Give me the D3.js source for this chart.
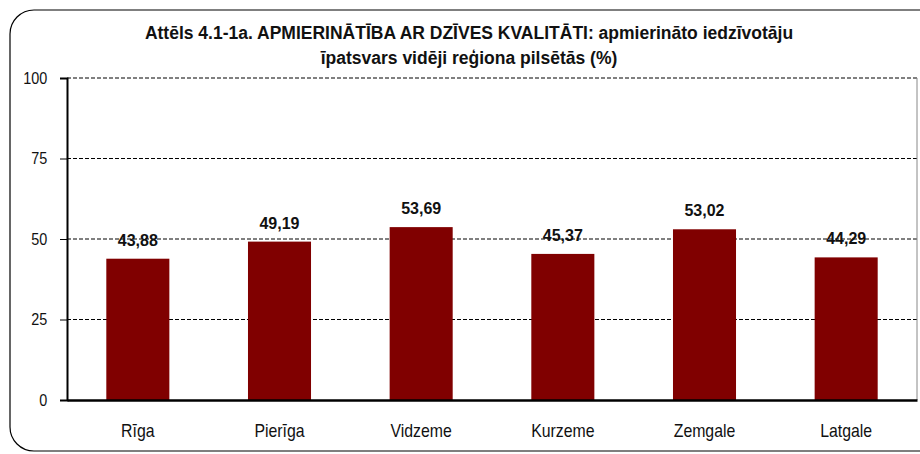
<!DOCTYPE html>
<html>
<head>
<meta charset="utf-8">
<script src="https://cdn.jsdelivr.net/npm/d3@7"></script>
<style>
  body { margin: 0; background: #fff; }
  svg text { font-family: "Liberation Sans Narrow", "Arial Narrow", "Liberation Sans", Arial, sans-serif; }
</style>
</head>
<body>
<script>
// chart data
var regions = ["Rīga", "Pierīga", "Vidzeme", "Kurzeme", "Zemgale", "Latgale"];
var values = [43.88, 49.19, 53.69, 45.37, 53.02, 44.29];
var yTicks = [0, 25, 50, 75, 100];
var titleLines = ["Attēls 4.1-1a. APMIERINĀTĪBA AR DZĪVES KVALITĀTI: apmierināto iedzīvotāju",
                  "īpatsvars vidēji reģiona pilsētās (%)"];

var w = 920, h = 454;
var plotLeft = 67, plotRight = 917, plotTop = 78, plotBottom = 400;

var svg = d3.select("body").append("svg")
    .attr("width", w)
    .attr("height", h);

// outer frame
svg.append("rect")
    .attr("x", 10).attr("y", 10)
    .attr("width", 935).attr("height", 441)
    .attr("rx", 24).attr("ry", 24)
    .style("fill", "none")
    .style("stroke", "#000")
    .style("stroke-width", 1.2);

// title
svg.append("g").selectAll("text")
    .data(titleLines)
    .enter()
    .append("text")
    .text(function(d) { return d; })
    .attr("x", 469)
    .attr("y", function(d, i) { return 39 + i * 25; })
    .attr("text-anchor", "middle")
    .attr("font-size", "17.5px")
    .attr("font-weight", "bold")
    .attr("fill", "#111");

var x = d3.scaleBand()
    .domain(regions)
    .range([plotLeft, plotRight])
    .paddingInner(0.555)
    .paddingOuter(0.2775);

var y = d3.scaleLinear()
    .domain([0, 100])
    .range([plotBottom, plotTop]);

// gridlines
svg.append("g").selectAll("line")
    .data(yTicks.filter(function(d) { return d > 0; }))
    .enter()
    .append("line")
    .attr("x1", plotLeft).attr("x2", plotRight)
    .attr("y1", function(d) { return y(d); })
    .attr("y2", function(d) { return y(d); })
    .style("stroke", "#000")
    .style("stroke-width", 1)
    .style("stroke-dasharray", "4,2");

// right border of plot
svg.append("line")
    .attr("x1", plotRight).attr("x2", plotRight)
    .attr("y1", plotTop).attr("y2", plotBottom)
    .style("stroke", "#888")
    .style("stroke-width", 1);

// bars
svg.append("g").selectAll("rect")
    .data(values)
    .enter()
    .append("rect")
    .attr("x", function(d, i) { return x(regions[i]); })
    .attr("y", function(d) { return y(d); })
    .attr("width", x.bandwidth())
    .attr("height", function(d) { return plotBottom - y(d); })
    .style("fill", "#800000");

// value labels
svg.append("g").selectAll("text")
    .data(values)
    .enter()
    .append("text")
    .text(function(d) { return d.toFixed(2).replace(".", ","); })
    .attr("x", function(d, i) { return x(regions[i]) + x.bandwidth() / 2; })
    .attr("y", function(d) { return y(d) - 13; })
    .attr("text-anchor", "middle")
    .attr("font-size", "16px")
    .attr("font-weight", "bold")
    .attr("fill", "#111");

// y axis
var yAxis = svg.append("g")
    .attr("transform", "translate(" + plotLeft + ",0)")
    .call(d3.axisLeft(y).tickValues(yTicks).tickSize(7).tickPadding(15));
yAxis.select(".domain").style("stroke", "#000").style("stroke-width", 2);
yAxis.selectAll(".tick line").style("stroke", "#000");
yAxis.selectAll("text").attr("font-size", "16px").attr("fill", "#111")
    .attr("transform", "scale(0.9,1)")
    .style("font-family", "'Liberation Sans Narrow', 'Arial Narrow', 'Liberation Sans', Arial, sans-serif");

// x axis
var xAxis = svg.append("g")
    .attr("transform", "translate(0," + plotBottom + ")")
    .call(d3.axisBottom(x).tickSize(0).tickPadding(24));
xAxis.select(".domain").style("stroke", "#000").style("stroke-width", 2.5);
xAxis.selectAll("text").attr("font-size", "18px").attr("fill", "#111")
    .attr("transform", "scale(0.88,1)")
    .style("font-family", "'Liberation Sans Narrow', 'Arial Narrow', 'Liberation Sans', Arial, sans-serif");
</script>
</body>
</html>
